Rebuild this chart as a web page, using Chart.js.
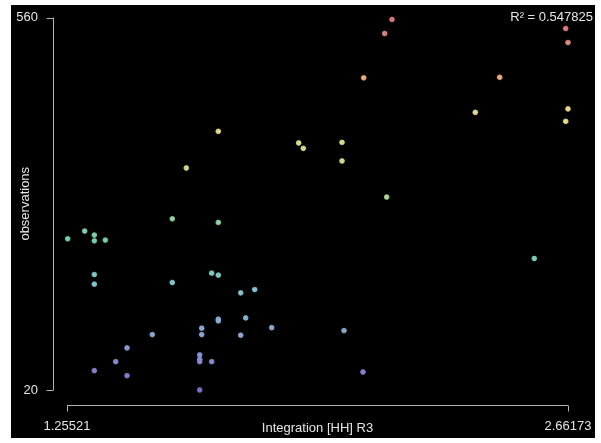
<!DOCTYPE html>
<html>
<head>
<meta charset="utf-8">
<script src="https://cdn.jsdelivr.net/npm/chart.js@4.4.0/dist/chart.umd.min.js"></script>
<style>
  html, body { margin: 0; padding: 0; background: #fff; }
  #panel { position: absolute; left: 11px; top: 5px; width: 584px; height: 433px; background: #000; }
</style>
</head>
<body>
<div id="panel"><canvas id="chart" width="584" height="433"></canvas></div>
<script>
// axis range / tick labels
const xTicks = [1.25521, 2.66173];
const yTicks = [20, 560];
const xTitle = "Integration [HH] R3";
const yTitle = "observations";
const rSquared = "R\u00b2 = 0.547825";

// points
const xValues = [
  1.6800, 1.5901, 2.1676, 2.1471, 2.0882, 1.9057, 1.9186, 2.0273, 2.0273, 2.1527,
  2.6553, 2.6617, 2.4700, 2.4015, 2.6617, 2.6553, 1.5508, 1.6800, 1.3049, 1.3319,
  1.2572, 1.3319, 1.3627, 1.3319, 1.3319, 1.6614, 1.6800, 1.5508, 1.6800, 1.6800,
  1.6334, 1.6334, 1.4947, 1.4237, 1.6278, 1.6278, 1.6278, 1.6614, 1.3919, 1.3319,
  1.4237, 1.6278, 1.7429, 1.7822, 1.7569, 1.7429, 1.8299, 2.0329, 2.0862, 2.5671,
];
const yValues = [
  395.0, 341.8, 557.1, 536.8, 472.5, 378.1, 370.3, 379.0, 352.0, 299.7,
  544.0, 523.7, 473.3, 422.5, 427.5, 409.5, 268.2, 262.9, 250.4, 244.6,
  239.2, 236.3, 237.3, 187.4, 173.4, 189.4, 186.5, 175.8, 122.6, 120.2,
  109.6, 100.3, 100.3, 81.0, 70.8, 64.6, 61.1, 61.1, 61.1, 48.0,
  40.8, 20.0, 160.8, 165.6, 124.5, 99.4, 110.4, 106.1, 46.1, 210.6,
];

// colour ramp by observation value
const rampStops = [
  [20, [124, 110, 200]],
  [90, [140, 160, 208]],
  [170, [128, 198, 204]],
  [240, [118, 206, 166]],
  [330, [196, 216, 136]],
  [420, [232, 222, 136]],
  [470, [234, 174, 124]],
  [560, [214, 116, 122]],
];

function rampColor(v) {
  for (let i = 1; i < rampStops.length; i++) {
    const [v0, c0] = rampStops[i - 1];
    const [v1, c1] = rampStops[i];
    if (v <= v1 || i === rampStops.length - 1) {
      const t = Math.max(0, Math.min(1, (v - v0) / (v1 - v0)));
      const c = c0.map((a, k) => Math.round(a + (c1[k] - a) * t));
      return `rgb(${c[0]},${c[1]},${c[2]})`;
    }
  }
}

const points = xValues.map((x, i) => ({ x, y: yValues[i] }));

const rAxes = {
  id: "rAxes",
  afterDraw(chart) {
    const { ctx, chartArea, scales } = chart;
    const xs = scales.x, ys = scales.y;
    ctx.save();
    ctx.strokeStyle = "#b4b4b4";
    ctx.lineWidth = 1;
    // y axis
    const ax = Math.round(chartArea.left - 14) + 0.5;
    const yTop = ys.getPixelForValue(yTicks[1]);
    const yBot = ys.getPixelForValue(yTicks[0]);
    ctx.beginPath();
    ctx.moveTo(ax, yTop);
    ctx.lineTo(ax, yBot);
    yTicks.forEach((v) => {
      const p = Math.round(ys.getPixelForValue(v)) + 0.5;
      ctx.moveTo(ax, p);
      ctx.lineTo(ax - 7, p);
    });
    // x axis
    const ay = Math.round(chartArea.bottom + 15) + 0.5;
    ctx.moveTo(xs.getPixelForValue(xTicks[0]), ay);
    ctx.lineTo(xs.getPixelForValue(xTicks[1]), ay);
    xTicks.forEach((v) => {
      const p = Math.round(xs.getPixelForValue(v)) + 0.5;
      ctx.moveTo(p, ay);
      ctx.lineTo(p, ay + 6);
    });
    ctx.stroke();
    // R squared
    ctx.fillStyle = "#e6e6e6";
    ctx.font = "13px 'Liberation Sans', Arial, sans-serif";
    ctx.textAlign = "right";
    ctx.textBaseline = "middle";
    ctx.fillText(rSquared, chart.width - 2, 12);
    ctx.restore();
  },
};

const labelFont = { family: "'Liberation Sans', Arial, sans-serif", size: 13 };

const noPad = (s) => {
  s.paddingLeft = 0;
  s.paddingRight = 0;
  s.paddingTop = 0;
  s.paddingBottom = 0;
};

new Chart(document.getElementById("chart"), {
  type: "scatter",
  data: {
    datasets: [
      {
        data: points,
        clip: false,
        pointRadius: 2.4,
        pointHoverRadius: 2.4,
        borderWidth: 0.8,
        backgroundColor: (c) => rampColor(c.raw ? c.raw.y : 20),
        borderColor: (c) => rampColor(c.raw ? c.raw.y : 20),
      },
    ],
  },
  options: {
    responsive: false,
    animation: false,
    events: [],
    layout: { padding: { top: 12.5, right: 27, bottom: 0, left: 0 } },
    plugins: { legend: { display: false }, tooltip: { enabled: false } },
    scales: {
      x: {
        type: "linear",
        min: xTicks[0],
        max: xTicks[1],
        grid: { display: false, drawTicks: false },
        border: { display: false },
        afterBuildTicks: (s) => { s.ticks = xTicks.map((value) => ({ value })); },
        afterFit: (s) => { s.height = 48; noPad(s); },
        ticks: {
          color: "#e6e6e6",
          font: labelFont,
          padding: 29,
          maxRotation: 0,
          autoSkip: false,
          callback: (v) => String(v),
        },
        title: { display: true, text: xTitle, color: "#e6e6e6", font: labelFont, padding: { top: 0, bottom: 2.2 } },
      },
      y: {
        type: "linear",
        min: yTicks[0],
        max: yTicks[1],
        grid: { display: false, drawTicks: false },
        border: { display: false },
        afterBuildTicks: (s) => { s.ticks = yTicks.map((value) => ({ value })); },
        afterFit: (s) => { s.width = 56; noPad(s); },
        ticks: {
          color: "#e6e6e6",
          font: labelFont,
          padding: 29,
          autoSkip: false,
          callback: (v) => String(v),
        },
        title: { display: true, text: yTitle, color: "#e6e6e6", font: labelFont, padding: { top: 6.2, bottom: 0 } },
      },
    },
  },
  plugins: [rAxes],
});
</script>
</body>
</html>
